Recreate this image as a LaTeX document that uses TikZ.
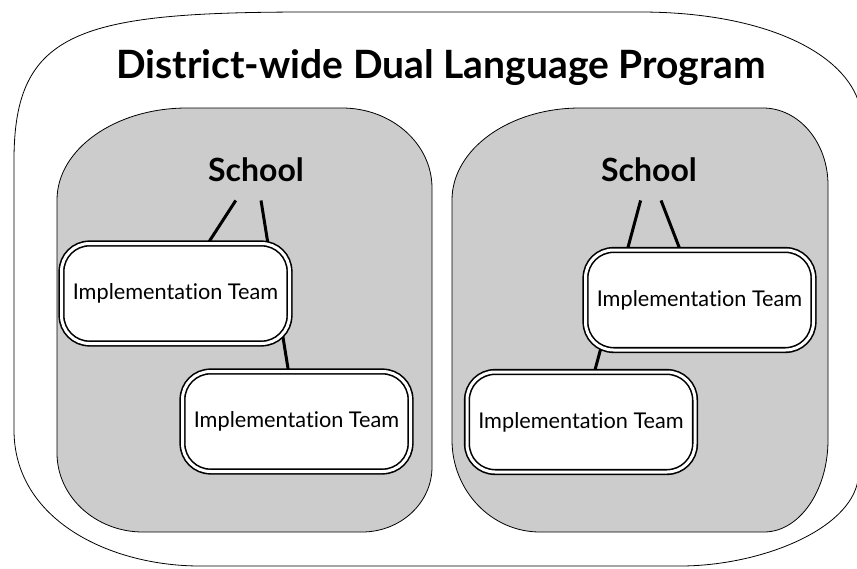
\documentclass[tikz,border=0pt]{standalone}
\usepackage{fontspec}
\setmainfont{Lato}[Ligatures=NoCommon]
\usetikzlibrary{backgrounds}
\pgfdeclarelayer{links}
\pgfsetlayers{background,links,main}

\tikzset{
  team/.style={draw, line width=1.6pt, double=white, double distance=3pt, fill=white,
    rounded corners=28pt, minimum width=228pt, minimum height=100pt, inner sep=0pt,
    font=\fontsize{21.7}{26}\selectfont},
  school/.style={font=\fontsize{32}{38}\selectfont\bfseries, inner xsep=4pt, inner ysep=19pt},
  link/.style={line width=3pt},
  campus/.style={draw=black, line width=0.8pt, fill=black!20},
}

\begin{document}
\begin{tikzpicture}[x=1pt,y=-1pt]
    \useasboundingbox (0,0) rectangle (857,568);

    % district and the two schools
    \begin{scope}[on background layer]
        \clip (0,0) rectangle (857,568);
        \draw[line width=0.8pt] (14,160) .. controls (14,30) and (80,12) .. (310,12)
            -- (640,12) .. controls (760,12) and (840,50) .. (858,100)
            -- (858,480) .. controls (850,530) and (760,566) .. (680,566)
            -- (200,566) .. controls (110,566) and (14,520) .. (14,430) -- cycle;
        \draw[campus] (57,200) .. controls (57,149.2) and (115.2,108) .. (187,108)
            -- (342,108) .. controls (391.7,108) and (432,143.8) .. (432,188)
            -- (432,467) .. controls (432,502.9) and (400.6,532) .. (362,532)
            -- (143,532) .. controls (95.5,532) and (57,496.6) .. (57,453) -- cycle;
        \draw[campus] (452,200) .. controls (452,149.2) and (509.3,108) .. (580,108)
            -- (763,108) .. controls (798.9,108) and (828,142.5) .. (828,185)
            -- (828,440) .. controls (828,490.8) and (799.3,532) .. (764,532)
            -- (540,532) .. controls (491.4,532) and (452,490.8) .. (452,440) -- cycle;
    \end{scope}

    \node (title) [anchor=base, font=\fontsize{39}{44}\selectfont\bfseries] at (441,78) {District-wide Dual Language Program};

    \node (schoolL) [school, anchor=base] at (256,181) {School};
    \node (teamLA) [team] at (175.5,293.5) {Implementation Team};
    \node (teamLB) [team] at (296.5,421.5) {Implementation Team};

    \node (schoolR) [school, anchor=base] at (649,181) {School};
    \node (teamRA) [team] at (699.5,300) {Implementation Team};
    \node (teamRB) [team] at (581,422) {Implementation Team};

    \begin{pgfonlayer}{links}
        \draw[link] (schoolL) -- (teamLA);
        \draw[link] (schoolL) -- (teamLB);
        \draw[link] (schoolR) -- (teamRA);
        \draw[link] (schoolR) -- (teamRB);
    \end{pgfonlayer}

\end{tikzpicture}
\end{document}
